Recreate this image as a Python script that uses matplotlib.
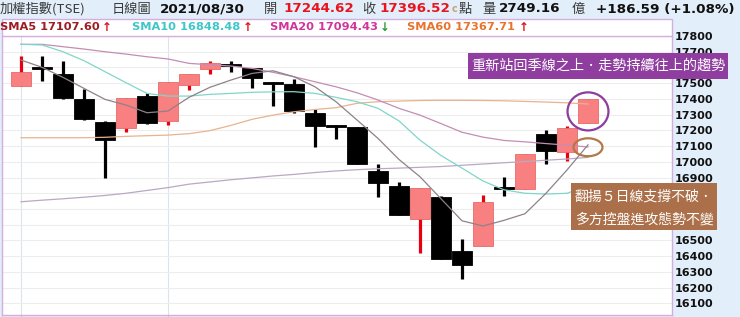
import matplotlib
matplotlib.use('Agg')
import matplotlib.pyplot as plt
from matplotlib.patches import Rectangle, Ellipse

# ---------------- data ----------------
opens  = [17484, 17600, 17556, 17397, 17255, 17217, 17418, 17257, 17490, 17592,
          17622, 17594, 17508, 17494, 17312, 17232, 17219, 16943, 16846, 16634,
          16778, 16432, 16464, 16843, 16827, 17176, 17064, 17244.62]
highs  = [17672, 17675, 17641, 17460, 17258, 17405, 17435, 17507, 17558, 17641,
          17643, 17594, 17508, 17526, 17333, 17234, 17222, 16986, 16869, 16831,
          16780, 16509, 16788, 16905, 17047, 17202, 17229, 17396.52]
lows   = [17484, 17516, 17400, 17266, 16894, 17191, 17238, 17231, 17456, 17558,
          17569, 17471, 17354, 17310, 17092, 17142, 16983, 16778, 16661, 16422,
          16381, 16252, 16464, 16784, 16827, 16986, 17007, 17244.62]
closes = [17573, 17588, 17403, 17270, 17138, 17405, 17248, 17507, 17558, 17626,
          17608, 17530, 17495, 17325, 17227, 17220, 16983, 16863, 16665, 16831,
          16381, 16343, 16746, 16828, 17047, 17068, 17212, 17396.52]

sma5  = [17647, 17601, 17537, 17467, 17397, 17361, 17312, 17323, 17410, 17474,
         17520, 17562, 17579, 17541, 17477, 17382, 17266, 17149, 17015, 16905,
         16765, 16625, 16592, 16628, 16670, 16800, 16948, 17107.60]
sma10 = [17747, 17743, 17700, 17643, 17573, 17503, 17435, 17418, 17418, 17429,
         17435, 17442, 17445, 17446, 17435, 17410, 17382, 17340, 17260, 17138,
         17040, 16960, 16878, 16822, 16800, 16795, 16800, 16848.48]
sma20 = [17747, 17747, 17732, 17717, 17700, 17685, 17668, 17654, 17626, 17617,
         17609, 17594, 17569, 17541, 17509, 17477, 17439, 17393, 17340, 17297,
         17243, 17188, 17157, 17136, 17127, 17116, 17106, 17094.43]
sma60 = [17153, 17153, 17153, 17153, 17156, 17162, 17166, 17170, 17179, 17198,
         17232, 17270, 17297, 17318, 17333, 17344, 17372, 17382, 17386, 17390,
         17391, 17391, 17390, 17388, 17384, 17380, 17375, 17367.71]
sma_long = [16746, 16756, 16765, 16775, 16786, 16800, 16818, 16836, 16858, 16872,
            16886, 16898, 16910, 16920, 16932, 16942, 16950, 16956, 16960, 16965,
            16970, 16978, 16986, 16994, 17002, 17010, 17018, 17028]

y_ticks = list(range(16100, 17900, 100))
# labels that are covered by the note boxes in the reference are not shown
hidden_labels = [17600, 16800, 16700, 16600]
y_tick_labels = ["" if v in hidden_labels else str(v) for v in y_ticks]
month_marks = [0, 7]

title_date = "2021/08/30"
hdr_open, hdr_close = "17244.62", "17396.52"
hdr_vol, hdr_chg = "2749.16", "+186.59 (+1.08%)"
legend_items = [("SMA5 17107.60", "#9e1b22", "↑", "#e0101a"),
                ("SMA10 16848.48", "#3ec6c9", "↑", "#e0101a"),
                ("SMA20 17094.43", "#d0359b", "↓", "#2e9a35"),
                ("SMA60 17367.71", "#e8732c", "↑", "#e0101a")]
note_top = "重新站回季線之上．走勢持續往上的趨勢"
note_bottom = ["翻揚５日線支撐不破．", "多方控盤進攻態勢不變"]

# ---------------- figure ----------------
W, H = 740, 317
fig = plt.figure(figsize=(W / 100, H / 100), dpi=100, facecolor='#e2eefa')

def fx(x):
    return x / W

def fy(y):
    return 1 - y / H

CJK = ['Noto Sans CJK TC', 'DejaVu Sans']

# plot area
ax = fig.add_axes([fx(2), fy(315), fx(670), (315 - 36) / H])
ax.set_facecolor('white')
n = len(opens)
xs = list(range(n))

up_face, up_edge, up_wick = '#f98080', '#e86a6a', '#e8000e'
dn_color = '#000000'

for i in xs:
    o, h, l, c = opens[i], highs[i], lows[i], closes[i]
    up = c > o
    wick = up_wick if up else dn_color
    ax.vlines(i, l, h, color=wick, lw=2.3, zorder=2)
    ax.bar(i, abs(c - o), bottom=min(o, c), width=0.93,
           color=up_face if up else dn_color,
           edgecolor=up_edge if up else dn_color, linewidth=0.6, zorder=3)

ax.plot(xs, sma_long, color='#b9a9c2', lw=0.9, zorder=4)
ax.plot(xs, sma60, color='#e8b38e', lw=0.9, zorder=4)
ax.plot(xs, sma20, color='#c48db4', lw=0.9, zorder=4)
ax.plot(xs, sma10, color='#80d6c8', lw=0.9, zorder=4)
ax.plot(xs, sma5, color='#8d8289', lw=0.9, zorder=4)

# circle and ellipse markers on last candle
mid_last = (opens[-1] + closes[-1]) / 2
ax.add_patch(Ellipse((xs[-1], mid_last), 1.95, 242, fill=False,
                     edgecolor='#8d3c9f', lw=1.6, zorder=6))
ax.add_patch(Ellipse((xs[-1], sma5[-1] - 15), 1.38, 114, fill=False,
                     edgecolor='#b27848', lw=1.6, zorder=6))

ax.set_xlim(-0.905, 31.0)
ax.set_ylim(16026, 17800)
ax.set_yticks(y_ticks)
ax.set_yticklabels(y_tick_labels)
ax.set_xticks(month_marks)
ax.set_xticklabels([])
ax.yaxis.tick_right()
ax.tick_params(axis='y', length=0, pad=2.2, labelsize=8, labelcolor='#111111')
ax.tick_params(axis='x', length=2.5, color='#b8c8d8', direction='out')
for lab in ax.get_yticklabels():
    lab.set_fontweight('bold')
ax.grid(axis='y', color='#ededed', lw=0.8, zorder=0)
ax.grid(axis='x', color='#dbe4ee', lw=0.8, zorder=0)
ax.set_axisbelow(True)
for s in ['left', 'right', 'bottom']:
    ax.spines[s].set_color('#d4aedc')
    ax.spines[s].set_linewidth(1.0)
ax.spines['top'].set_color('#e2d6ea')
ax.spines['top'].set_linewidth(0.8)

# legend row box
fig.add_artist(Rectangle((fx(2), fy(36)), fx(670), 17 / H, transform=fig.transFigure,
                         facecolor='white', edgecolor='#d4aedc', lw=1.0, zorder=1))

# ---------------- header ----------------
hy = fy(9)
grey = '#3a3a3a'
bold = dict(fontweight='bold', fontsize=9.7, family='DejaVu Sans', va='center')
cjk = dict(fontsize=9.5, family=CJK, color=grey, va='center')
fig.text(fx(0), hy, "加權指數(TSE)", **cjk)
fig.text(fx(112), hy, "日線圖", **cjk)
fig.text(fx(160), hy, title_date, color='#111111', **bold)
fig.text(fx(264), hy, "開", **cjk)
fig.text(fx(283), hy, hdr_open, color='#e8141e', **bold)
fig.text(fx(362), hy, "收", **cjk)
fig.text(fx(379), hy, hdr_close, color='#e8141e', **bold)
fig.text(fx(452), hy, "c", color='#c9a27a', fontsize=7, va='center', fontweight='bold')
fig.text(fx(459), hy, "點", **cjk)
fig.text(fx(482), hy, "量", **cjk)
fig.text(fx(499), hy, hdr_vol, color='#111111', **bold)
fig.text(fx(572), hy, "億", **cjk)
fig.text(fx(596), hy, hdr_chg, color='#111111', **bold)

# legend row
ly = fy(27.5)
leg_x = [(0, 102), (132, 243), (270, 380), (407, 519)]
for (txt, col, arr, acol), (x0, xa) in zip(legend_items, leg_x):
    fig.text(fx(x0), ly, txt, color=col, fontsize=8.2, fontweight='bold', va='center', zorder=2)
    fig.text(fx(xa), ly, arr, color=acol, fontsize=8.5, fontweight='bold', va='center', zorder=2)

# ---------------- annotation boxes ----------------
fig.add_artist(Rectangle((fx(468), fy(79)), fx(260), 26 / H, transform=fig.transFigure,
                         facecolor='#8f3d9f', edgecolor='none', zorder=5))
fig.text(fx(598), fy(66), note_top, color='white', fontsize=10.2, family=CJK,
         ha='center', va='center', zorder=6)

fig.add_artist(Rectangle((fx(571), fy(230)), fx(146), 47 / H, transform=fig.transFigure,
                         facecolor='#ab7049', edgecolor='none', zorder=5))
fig.text(fx(644), fy(196.5), note_bottom[0], color='white', fontsize=10.0, family=CJK,
         ha='center', va='center', zorder=6)
fig.text(fx(644), fy(220), note_bottom[1], color='white', fontsize=10.0, family=CJK,
         ha='center', va='center', zorder=6)

fig.savefig('out.png', dpi=100, facecolor=fig.get_facecolor())
